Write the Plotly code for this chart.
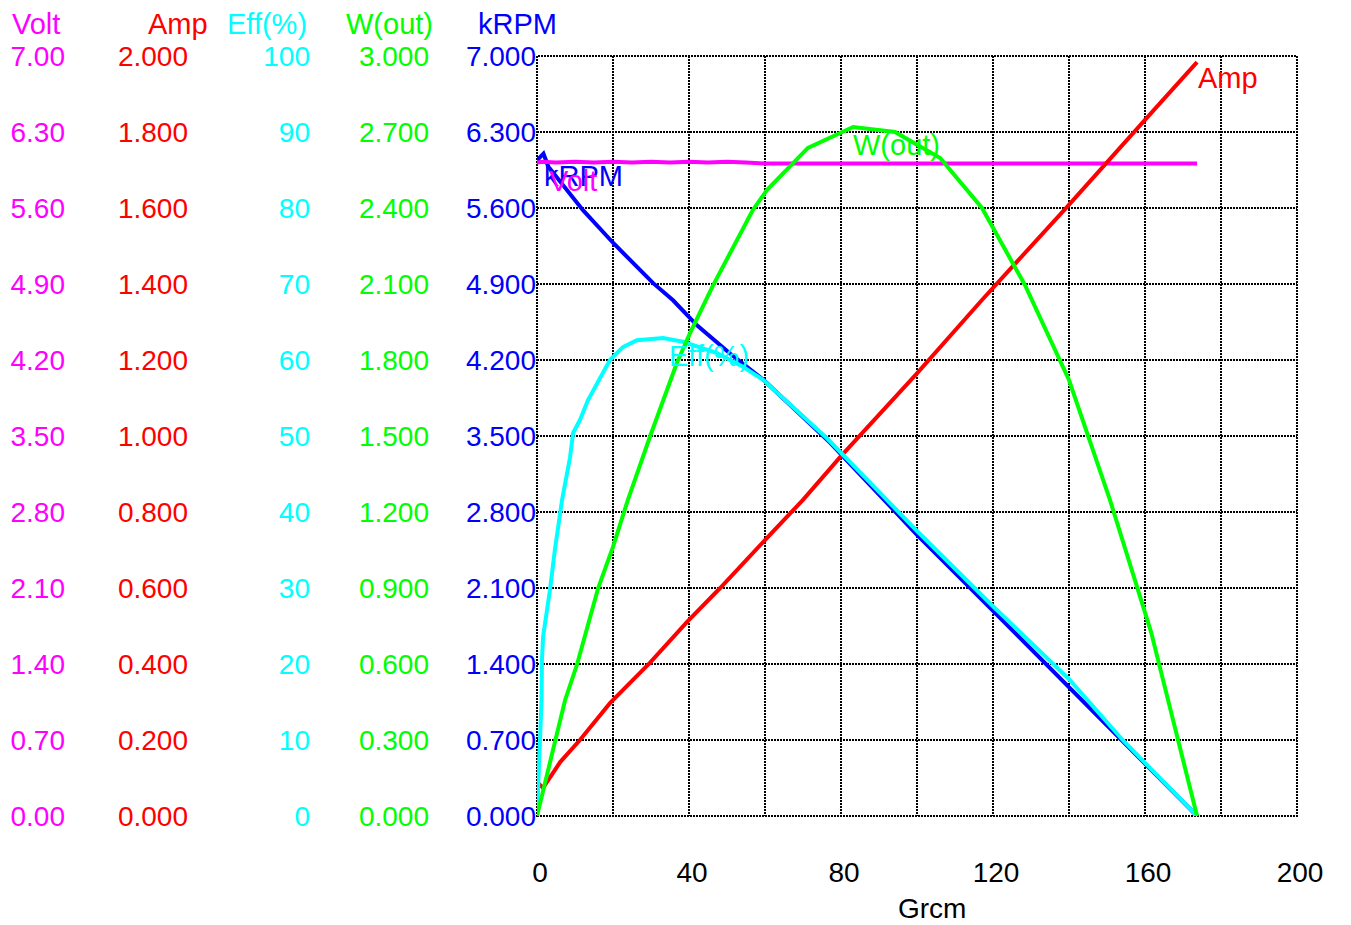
import plotly.graph_objects as go

# ---------------- data ----------------
# x axis: torque in Grcm
x_tick_vals = [0, 20, 40, 60, 80, 100, 120, 140, 160, 180, 200]
x_tick_text = ["0", "", "40", "", "80", "", "120", "", "160", "", "200"]

# Volt
volt_x = [0, 1.5, 5, 10, 15, 20, 25, 30, 35, 40, 45, 50, 55, 60, 80, 100, 120, 140, 160, 173.7]
volt_v = [6.02, 6.025, 6.02, 6.025, 6.02, 6.025, 6.02, 6.025, 6.02, 6.025, 6.02, 6.025, 6.02,
          6.01, 6.01, 6.01, 6.01, 6.01, 6.01, 6.01]

# kRPM
krpm_x = [0, 1.7, 3.0, 6.1, 12.1, 20.0, 30.5, 35.8, 42.1, 50.8, 59.5, 77.1, 100, 120, 140, 160, 173.7]
krpm_v = [6.04, 6.10, 5.98, 5.84, 5.58, 5.28, 4.91, 4.75, 4.52, 4.26, 4.02, 3.44, 2.59, 1.89, 1.19, 0.48, 0.0]

# Amp
amp_x = [0, 1.6, 6.1, 11.3, 19.2, 29.7, 39.5, 48.2, 59.5, 70.0, 80, 100, 117.1, 139.5, 160, 173.7]
amp_v = [0.090, 0.074, 0.142, 0.200, 0.297, 0.403, 0.511, 0.600, 0.721, 0.832, 0.947, 1.165,
         1.358, 1.603, 1.832, 1.984]

# Eff(%)
eff_x = [0, 0.6, 1.2, 1.3, 1.6, 3.4, 4.7, 6.6, 8.7, 9.5, 11.3, 13.4, 15.8, 19.2, 22.6, 26.3,
         33.2, 38.4, 47.4, 54.2, 59.5, 76.3, 100, 120, 140, 154.3, 160, 173.7]
eff_v = [0, 8.0, 15.3, 20.5, 23.6, 29.7, 35.0, 41.6, 47.2, 50.4, 52.1, 54.7, 57.0, 60.0, 61.7, 62.6,
         62.9, 62.4, 60.9, 59.1, 57.4, 49.7, 37.5, 27.6, 18.0, 9.9, 7.0, 0]

# W(out)
w_x = [0, 7.4, 10.5, 16.1, 20.0, 23.9, 29.7, 36.8, 40.3, 46.1, 56.8, 60.5, 71.3, 83.2, 94.2,
       106.1, 117.1, 128.4, 140.0, 150.8, 161.6, 173.7]
w_v = [0, 0.458, 0.596, 0.900, 1.062, 1.247, 1.496, 1.788, 1.907, 2.088, 2.392, 2.471, 2.637,
       2.720, 2.700, 2.597, 2.400, 2.096, 1.721, 1.247, 0.726, 0]

# tick labels of the five value axes
volt_tick_vals = [0, 0.7, 1.4, 2.1, 2.8, 3.5, 4.2, 4.9, 5.6, 6.3, 7.0]
volt_tick_text = ["0.00", "0.70", "1.40", "2.10", "2.80", "3.50", "4.20", "4.90", "5.60", "6.30", "7.00"]
amp_tick_vals = [0, 0.2, 0.4, 0.6, 0.8, 1.0, 1.2, 1.4, 1.6, 1.8, 2.0]
amp_tick_text = ["0.000", "0.200", "0.400", "0.600", "0.800", "1.000", "1.200", "1.400", "1.600", "1.800", "2.000"]
eff_tick_vals = [0, 10, 20, 30, 40, 50, 60, 70, 80, 90, 100]
eff_tick_text = ["0", "10", "20", "30", "40", "50", "60", "70", "80", "90", "100"]
w_tick_vals = [0, 0.3, 0.6, 0.9, 1.2, 1.5, 1.8, 2.1, 2.4, 2.7, 3.0]
w_tick_text = ["0.000", "0.300", "0.600", "0.900", "1.200", "1.500", "1.800", "2.100", "2.400", "2.700", "3.000"]
krpm_tick_vals = [0, 0.7, 1.4, 2.1, 2.8, 3.5, 4.2, 4.9, 5.6, 6.3, 7.0]
krpm_tick_text = ["0.000", "0.700", "1.400", "2.100", "2.800", "3.500", "4.200", "4.900", "5.600", "6.300", "7.000"]

# ---------------- styling / layout ----------------
MAGENTA = "#FF00FF"
RED = "#FF0000"
CYAN = "#00FFFF"
GREEN = "#00FF00"
BLUE = "#0000FF"
FONT = "Liberation Sans, Arial, sans-serif"
FS = 28
FS_HEAD = 29

W_PX, H_PX = 1351, 925
ML, MR, MT, MB = 0, 54, 56, 109
PAPER_W = W_PX - ML - MR
PAPER_H = H_PX - MT - MB


def pxx(p):
    return (p - ML) / PAPER_W


def pxy(p):
    return (H_PX - MB - p) / PAPER_H


LW = 4
fig = go.Figure()
fig.add_trace(go.Scatter(x=w_x, y=w_v, yaxis="y5", mode="lines", name="W(out)",
                         line=dict(color=GREEN, width=LW)))
fig.add_trace(go.Scatter(x=krpm_x, y=krpm_v, yaxis="y", mode="lines", name="kRPM",
                         line=dict(color=BLUE, width=LW)))
fig.add_trace(go.Scatter(x=eff_x, y=eff_v, yaxis="y4", mode="lines", name="Eff(%)",
                         line=dict(color=CYAN, width=LW)))
fig.add_trace(go.Scatter(x=amp_x, y=amp_v, yaxis="y3", mode="lines", name="Amp",
                         line=dict(color=RED, width=LW)))
fig.add_trace(go.Scatter(x=volt_x, y=volt_v, yaxis="y2", mode="lines", name="Volt",
                         line=dict(color=MAGENTA, width=LW)))

GRID = dict(showgrid=True, gridcolor="black", gridwidth=2, griddash="2px,1px")


def free_axis(vals, text, color, rng, right_px):
    return dict(overlaying="y", anchor="free", position=pxx(right_px), side="left",
                range=rng, tickvals=vals, ticktext=text, showgrid=False, zeroline=False,
                showline=False, ticks="", automargin=False, fixedrange=True,
                tickfont=dict(family=FONT, size=FS, color=color))


annotations = []
# column headers above the value axes
for txt, left_px, col in [("Volt", 10, MAGENTA), ("Amp", 146, RED), ("Eff(%)", 225, CYAN),
                          ("W(out)", 344, GREEN), ("kRPM", 476, BLUE)]:
    annotations.append(dict(text=txt, xref="paper", yref="paper", x=pxx(left_px), y=pxy(24),
                            xanchor="left", yanchor="middle", showarrow=False,
                            font=dict(family=FONT, size=FS_HEAD, color=col)))
# x axis title
annotations.append(dict(text="Grcm", xref="paper", yref="paper", x=pxx(932), y=pxy(908),
                        xanchor="center", yanchor="middle", showarrow=False,
                        font=dict(family=FONT, size=FS, color="black")))

# curve labels placed at a point of each curve
i_w = w_v.index(max(w_v))
i_e = eff_v.index(max(eff_v))
curve_labels = [
    ("kRPM", krpm_x[0], krpm_v[0], "y", BLUE, 5, 2),
    ("Volt", volt_x[0], volt_v[0], "y2", MAGENTA, 10, -1),
    ("Eff(%)", eff_x[i_e], eff_v[i_e], "y4", CYAN, 4, 0),
    ("W(out)", w_x[i_w], w_v[i_w], "y5", GREEN, -2, 0),
    ("Amp", amp_x[-1], amp_v[-1], "y3", RED, -1, 2),
]
for txt, xv, yv, yr, col, xs, ys in curve_labels:
    annotations.append(dict(text=txt, xref="x", yref=yr, x=xv, y=yv, xanchor="left",
                            yanchor="top", showarrow=False, xshift=xs, yshift=ys,
                            font=dict(family=FONT, size=FS_HEAD, color=col)))

fig.update_layout(
    width=W_PX, height=H_PX, autosize=False,
    margin=dict(l=ML, r=MR, t=MT, b=MB, pad=0),
    paper_bgcolor="white", plot_bgcolor="white",
    showlegend=False,
    xaxis=dict(domain=[pxx(537), 1.0], range=[0, 200], tickvals=x_tick_vals, ticktext=x_tick_text,
               zeroline=False, showline=False, ticks="", automargin=False, fixedrange=True,
               ticklabelstandoff=37, ticklabelshift=3,
               tickfont=dict(family=FONT, size=FS, color="black"), **GRID),
    yaxis=dict(range=[0, 7], tickvals=krpm_tick_vals, ticktext=krpm_tick_text, anchor="x",
               side="left", zeroline=False, showline=False, ticks="", automargin=False,
               fixedrange=True, tickfont=dict(family=FONT, size=FS, color=BLUE), **GRID),
    yaxis2=free_axis(volt_tick_vals, volt_tick_text, MAGENTA, [0, 7], 65),
    yaxis3=free_axis(amp_tick_vals, amp_tick_text, RED, [0, 2], 188),
    yaxis4=free_axis(eff_tick_vals, eff_tick_text, CYAN, [0, 100], 310),
    yaxis5=free_axis(w_tick_vals, w_tick_text, GREEN, [0, 3], 429),
    annotations=annotations,
    shapes=[dict(type="rect", xref="x domain", yref="y domain", x0=0, x1=1, y0=0, y1=1,
                 line=dict(color="black", width=2, dash="2px,1px"), layer="below")],
)

fig.write_html("out.html", config={"displayModeBar": False},
               post_script="document.body.style.margin='0px';")
